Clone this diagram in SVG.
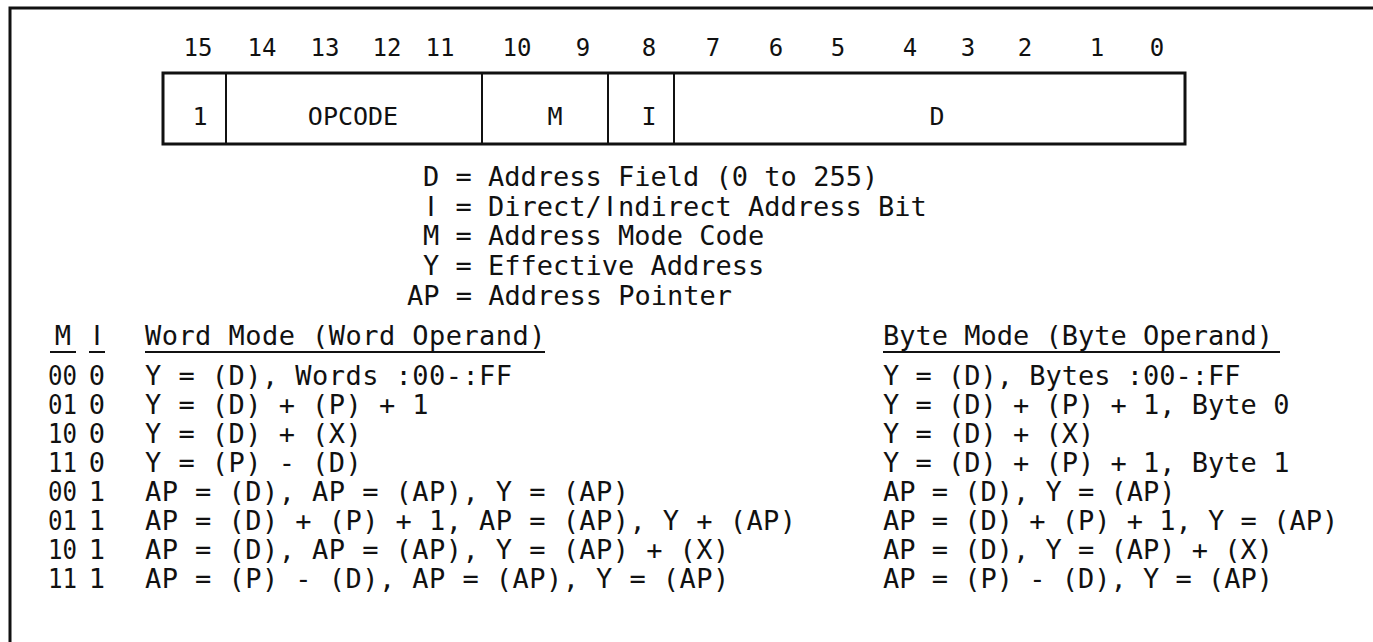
<svg xmlns="http://www.w3.org/2000/svg" width="1373" height="642" viewBox="0 0 1373 642">
<style>
.t{font-family:"DejaVu Sans Mono","Liberation Mono",monospace;font-size:27px;fill:#111;}
.w{letter-spacing:0.45px;}
.c{text-anchor:middle;}
.s{font-family:"DejaVu Sans","Liberation Sans",sans-serif;}
.b{font-family:"DejaVu Sans Mono","Liberation Mono",monospace;font-size:24px;fill:#111;text-anchor:middle;}
.l{font-family:"DejaVu Sans Mono","Liberation Mono",monospace;font-size:25px;fill:#111;text-anchor:middle;}
.frame{stroke:#111;stroke-width:3;fill:none;}
.box{stroke:#111;stroke-width:3;fill:none;}
.div{stroke:#111;stroke-width:2;}
.ul{stroke:#111;stroke-width:2;}
</style>
<rect width="1373" height="642" fill="#fff"/>
<g id="frame">
<path class="frame" d="M10,642 V8 H1373"/>
</g>
<g id="bitnumbers">
<text class="b" x="198" y="56">15</text>
<text class="b" x="262" y="56">14</text>
<text class="b" x="325" y="56">13</text>
<text class="b" x="387" y="56">12</text>
<text class="b" x="440" y="56">11</text>
<text class="b" x="517" y="56">10</text>
<text class="b" x="583" y="56">9</text>
<text class="b" x="649" y="56">8</text>
<text class="b" x="713" y="56">7</text>
<text class="b" x="776" y="56">6</text>
<text class="b" x="838" y="56">5</text>
<text class="b" x="910" y="56">4</text>
<text class="b" x="968" y="56">3</text>
<text class="b" x="1025" y="56">2</text>
<text class="b" x="1097" y="56">1</text>
<text class="b" x="1157" y="56">0</text>
</g>
<g id="instruction-word">
<rect class="box" x="163" y="73" width="1022" height="71"/>
<line class="div" x1="226" y1="73" x2="226" y2="144"/>
<line class="div" x1="482" y1="73" x2="482" y2="144"/>
<line class="div" x1="608" y1="73" x2="608" y2="144"/>
<line class="div" x1="674" y1="73" x2="674" y2="144"/>
<text class="l" x="200" y="125" font-size="20">1</text>
<text class="l" x="353" y="125">OPCODE</text>
<text class="l" x="555" y="125">M</text>
<text class="l s" x="649" y="125">I</text>
<text class="l" x="937" y="125">D</text>
</g>
<g id="legend">
<text class="t" x="423" y="186">D = Address Field (0 to 255)</text>
<text class="t s" x="427" y="216">I</text>
<text class="t" x="455.5" y="216">= Direct/</text>
<text class="t s" x="606" y="216">I</text>
<text class="t" x="618" y="216">ndirect Address Bit</text>
<text class="t" x="423" y="245">M = Address Mode Code</text>
<text class="t" x="423" y="275">Y = Effective Address</text>
<text class="t" x="407" y="305">AP = Address Pointer</text>
</g>
<g id="table-header">
<text class="t c" x="63" y="345">M</text>
<text class="t c s" x="97" y="345">I</text>
<text class="t w" x="145" y="345">Word Mode (Word Operand)</text>
<text class="t" x="883" y="345">Byte Mode (Byte Operand)</text>
<line class="ul" x1="50" y1="352" x2="76" y2="352"/>
<line class="ul" x1="89" y1="352" x2="105" y2="352"/>
<line class="ul" x1="145" y1="352" x2="545" y2="352"/>
<line class="ul" x1="883" y1="352" x2="1280" y2="352"/>
</g>
<g id="table-rows">
<text class="t" x="48" y="385" textLength="29" lengthAdjust="spacingAndGlyphs">00</text><text class="t c" x="97" y="385">0</text>
<text class="t w" x="145" y="385">Y = (D), Words :00-:FF</text>
<text class="t" x="883" y="385">Y = (D), Bytes :00-:FF</text>
<text class="t" x="48" y="414" textLength="29" lengthAdjust="spacingAndGlyphs">01</text><text class="t c" x="97" y="414">0</text>
<text class="t w" x="145" y="414">Y = (D) + (P) + 1</text>
<text class="t" x="883" y="414">Y = (D) + (P) + 1, Byte 0</text>
<text class="t" x="48" y="443" textLength="29" lengthAdjust="spacingAndGlyphs">10</text><text class="t c" x="97" y="443">0</text>
<text class="t w" x="145" y="443">Y = (D) + (X)</text>
<text class="t" x="883" y="443">Y = (D) + (X)</text>
<text class="t" x="48" y="472" textLength="29" lengthAdjust="spacingAndGlyphs">11</text><text class="t c" x="97" y="472">0</text>
<text class="t w" x="145" y="472">Y = (P) - (D)</text>
<text class="t" x="883" y="472">Y = (D) + (P) + 1, Byte 1</text>
<text class="t" x="48" y="501" textLength="29" lengthAdjust="spacingAndGlyphs">00</text><text class="t c" x="97" y="501">1</text>
<text class="t w" x="145" y="501">AP = (D), AP = (AP), Y = (AP)</text>
<text class="t" x="883" y="501">AP = (D), Y = (AP)</text>
<text class="t" x="48" y="530" textLength="29" lengthAdjust="spacingAndGlyphs">01</text><text class="t c" x="97" y="530">1</text>
<text class="t w" x="145" y="530">AP = (D) + (P) + 1, AP = (AP), Y + (AP)</text>
<text class="t" x="883" y="530">AP = (D) + (P) + 1, Y = (AP)</text>
<text class="t" x="48" y="559" textLength="29" lengthAdjust="spacingAndGlyphs">10</text><text class="t c" x="97" y="559">1</text>
<text class="t w" x="145" y="559">AP = (D), AP = (AP), Y = (AP) + (X)</text>
<text class="t" x="883" y="559">AP = (D), Y = (AP) + (X)</text>
<text class="t" x="48" y="588" textLength="29" lengthAdjust="spacingAndGlyphs">11</text><text class="t c" x="97" y="588">1</text>
<text class="t w" x="145" y="588">AP = (P) - (D), AP = (AP), Y = (AP)</text>
<text class="t" x="883" y="588">AP = (P) - (D), Y = (AP)</text>
</g>
</svg>
